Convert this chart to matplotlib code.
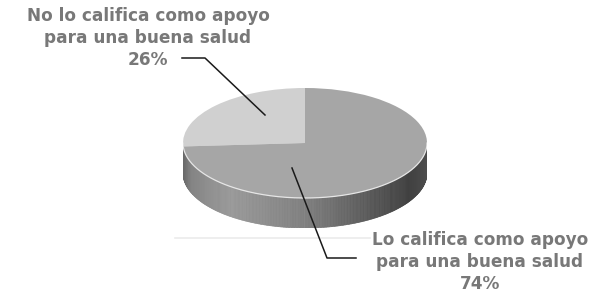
import numpy as np
import matplotlib
matplotlib.use("Agg")
import matplotlib.pyplot as plt
from matplotlib.collections import PolyCollection

# ---- data ----
categories = ["No lo califica como apoyo\npara una buena salud", "Lo califica como apoyo\npara una buena salud"]
values = [26, 74]
slice_colors = ["#d0d0d0", "#a6a6a6"]

W, H = 609, 294
fig = plt.figure(figsize=(W / 100, H / 100), dpi=100)
fig.patch.set_facecolor("white")

# pie axes placed at ellipse bounding box
px_left, px_right = 183, 427
px_top = 88
b_px = 55.0
h_units = 0.545
px_bottom = px_top + b_px * (2 + h_units)
pie_ax = fig.add_axes([px_left / W, (H - px_bottom) / H, (px_right - px_left) / W, (px_bottom - px_top) / H])
pie_ax.axis("off")
pie_ax.set_zorder(1)

# overlay axes in pixel coordinates (on top)
ov = fig.add_axes([0, 0, 1, 1])
ov.set_xlim(0, W)
ov.set_ylim(H, 0)
ov.axis("off")
ov.set_zorder(2)
ov.patch.set_alpha(0)

# faint floor line (behind pie)
floor = fig.add_axes([0, 0, 1, 1])
floor.set_xlim(0, W)
floor.set_ylim(H, 0)
floor.axis("off")
floor.set_zorder(0)
floor.plot([175, 370], [238, 238], color="#ebebeb", lw=1.2)

# side band (front half) drawn as shaded strips
t = np.linspace(np.pi, 2 * np.pi, 240)
xs_shade = [-1, -0.93, -0.6, 0.0, 0.5, 0.85, 1.0]
vals_shade = [0.40, 0.52, 0.60, 0.50, 0.36, 0.25, 0.30]
polys, cols = [], []
for i in range(len(t) - 1):
    x0, x1 = np.cos(t[i]), np.cos(t[i + 1])
    y0, y1 = np.sin(t[i]), np.sin(t[i + 1])
    polys.append([(x0, y0), (x1, y1), (x1, y1 - h_units), (x0, y0 - h_units)])
    g = np.interp((x0 + x1) / 2, xs_shade, vals_shade)
    cols.append((g, g, g))
pc = PolyCollection(polys, facecolors=cols, edgecolors=cols, linewidths=0.5, zorder=1)
pie_ax.add_collection(pc)

# top face
wedges, _ = pie_ax.pie(values, colors=slice_colors, startangle=90, counterclock=True,
                       wedgeprops=dict(linewidth=0))
for w in wedges:
    w.set_zorder(2)
# rim highlight
pie_ax.plot(np.cos(t), np.sin(t), color="#e6e6e6", lw=0.9, zorder=3)
pie_ax.set_aspect("auto")
pie_ax.set_xlim(-1, 1)
pie_ax.set_ylim(-1 - h_units, 1)

# labels
txt_color = "#787878"
font = dict(family="DejaVu Sans", weight="bold", fontsize=12.2, color=txt_color,
            ha="center", va="center", linespacing=1.28)
ov.text(148, 38, f"{categories[0]}\n{values[0]}%", **font)
ov.text(480, 262, f"{categories[1]}\n{values[1]}%", **font)

# leader lines
ov.plot([182, 205, 265], [58, 58, 115], color="#1a1a1a", lw=1.1)
ov.plot([292, 327, 356], [168, 258, 258], color="#1a1a1a", lw=1.1)

fig.savefig("out.png", dpi=100, facecolor="white")
